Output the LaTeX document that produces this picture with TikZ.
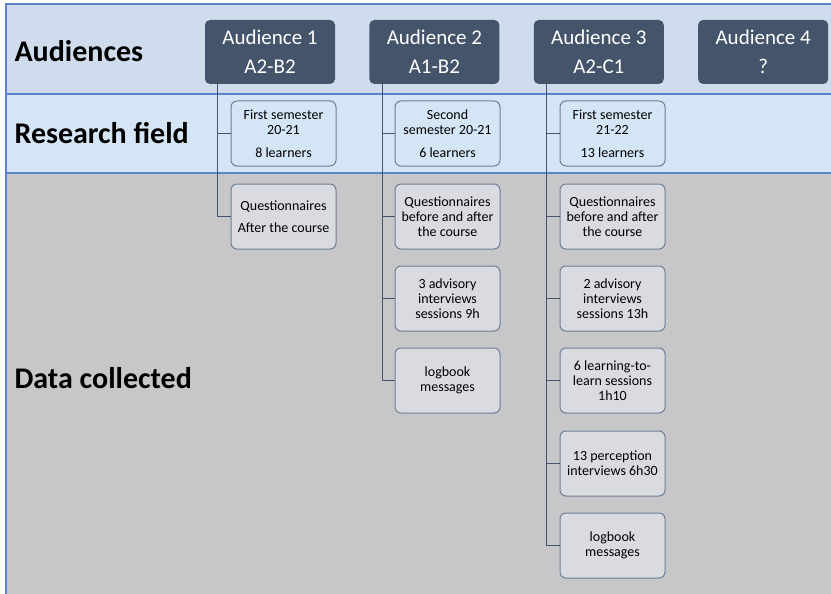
\documentclass[tikz,border=0pt]{standalone}
\usepackage{fontspec}
\setmainfont{Carlito}
\usetikzlibrary{positioning,calc}

\definecolor{audfill}{HTML}{44546A}
\definecolor{boxline}{HTML}{6E7F96}
\definecolor{bandline}{HTML}{5B84C8}
\definecolor{audband}{HTML}{CFDCEE}
\definecolor{fieldband}{HTML}{D4E5F6}
\definecolor{databand}{HTML}{C7C7C9}
\definecolor{datafill}{HTML}{D9DBE0}

\begin{document}
\begin{tikzpicture}[
    x=1pt, y=1pt,
    aud/.style={rectangle, rounded corners=5pt, fill=audfill, text=white,
                minimum width=130pt, minimum height=64pt,
                align=center, font=\fontsize{21}{25}\selectfont},
    field/.style={rectangle, rounded corners=6pt, draw=boxline, fill=fieldband,
                  minimum width=105pt, minimum height=65pt, inner sep=1pt,
                  align=center, font=\fontsize{14}{15}\selectfont, line width=1pt},
    datum/.style={field, fill=datafill},
    rowlabel/.style={anchor=west, font=\fontsize{30}{34}\selectfont\bfseries},
    trunk/.style={draw=audfill, line width=1pt}
]
    \useasboundingbox (0,0) rectangle (831,-594);

    % Background bands
    \fill[audband] (6,-4) rectangle (831,-94);
    \fill[fieldband] (6,-94) rectangle (831,-173);
    \fill[databand] (6,-173) rectangle (831,-594);
    \draw[bandline, line width=1.2pt] (831,-4) -- (6,-4) -- (6,-594);
    \draw[bandline, line width=1.2pt] (6,-94) -- (831,-94) (6,-173) -- (831,-173);

    % Row labels
    \node[rowlabel] (laud) at (11,-51) {Audiences};
    \node[rowlabel] (lfield) at (11,-133) {Research field};
    \node[rowlabel] (ldata) at (11,-378) {Data collected};

    % Audiences
    \node[aud] (aud1) at (270,-52) {Audience 1\\[4pt]A2-B2};
    \node[aud, right=34pt of aud1] (aud2) {Audience 2\\[4pt]A1-B2};
    \node[aud, right=34pt of aud2] (aud3) {Audience 3\\[4pt]A2-C1};
    \node[aud, right=34pt of aud3] (aud4) {Audience 4\\[4pt]?};

    % Research field
    \node[field] (f1) at (283.5,-133.5) {First semester\\20-21\\[8pt]8 learners};
    \node[field, right=58pt of f1] (f2) {Second\\semester 20-21\\[8pt]6 learners};
    \node[field, right=59pt of f2] (f3) {First semester\\21-22\\[8pt]13 learners};

    % Data collected
    \node[datum, below=17pt of f1] (q1) {Questionnaires\\[7pt]After the course};

    \node[datum, below=17pt of f2] (q2) {Questionnaires\\before and after\\the course};
    \node[datum, below=16pt of q2] (adv2) {3 advisory\\interviews\\sessions 9h};
    \node[datum, below=16pt of adv2] (log2) {logbook\\messages};

    \node[datum, below=17pt of f3] (q3) {Questionnaires\\before and after\\the course};
    \node[datum, below=16pt of q3] (adv3) {2 advisory\\interviews\\sessions 13h};
    \node[datum, below=16pt of adv3] (ltl3) {6 learning-to-\\learn sessions\\1h10};
    \node[datum, below=17pt of ltl3] (perc3) {13 perception\\interviews 6h30};
    \node[datum, below=16pt of perc3] (log3) {logbook\\messages};

    % Tree lines
    \coordinate (t1) at ($(aud1.south west)+(13,0)$);
    \coordinate (t2) at ($(aud2.south west)+(13,0)$);
    \coordinate (t3) at ($(aud3.south west)+(13,0)$);

    \draw[trunk] (t1) |- (q1.west);
    \draw[trunk] (t1 |- f1.west) -- (f1.west);

    \draw[trunk] (t2) |- (log2.west);
    \draw[trunk] (t2 |- f2.west) -- (f2.west);
    \draw[trunk] (t2 |- q2.west) -- (q2.west);
    \draw[trunk] (t2 |- adv2.west) -- (adv2.west);

    \draw[trunk] (t3) |- (log3.west);
    \draw[trunk] (t3 |- f3.west) -- (f3.west);
    \draw[trunk] (t3 |- q3.west) -- (q3.west);
    \draw[trunk] (t3 |- adv3.west) -- (adv3.west);
    \draw[trunk] (t3 |- ltl3.west) -- (ltl3.west);
    \draw[trunk] (t3 |- perc3.west) -- (perc3.west);
\end{tikzpicture}
\end{document}
